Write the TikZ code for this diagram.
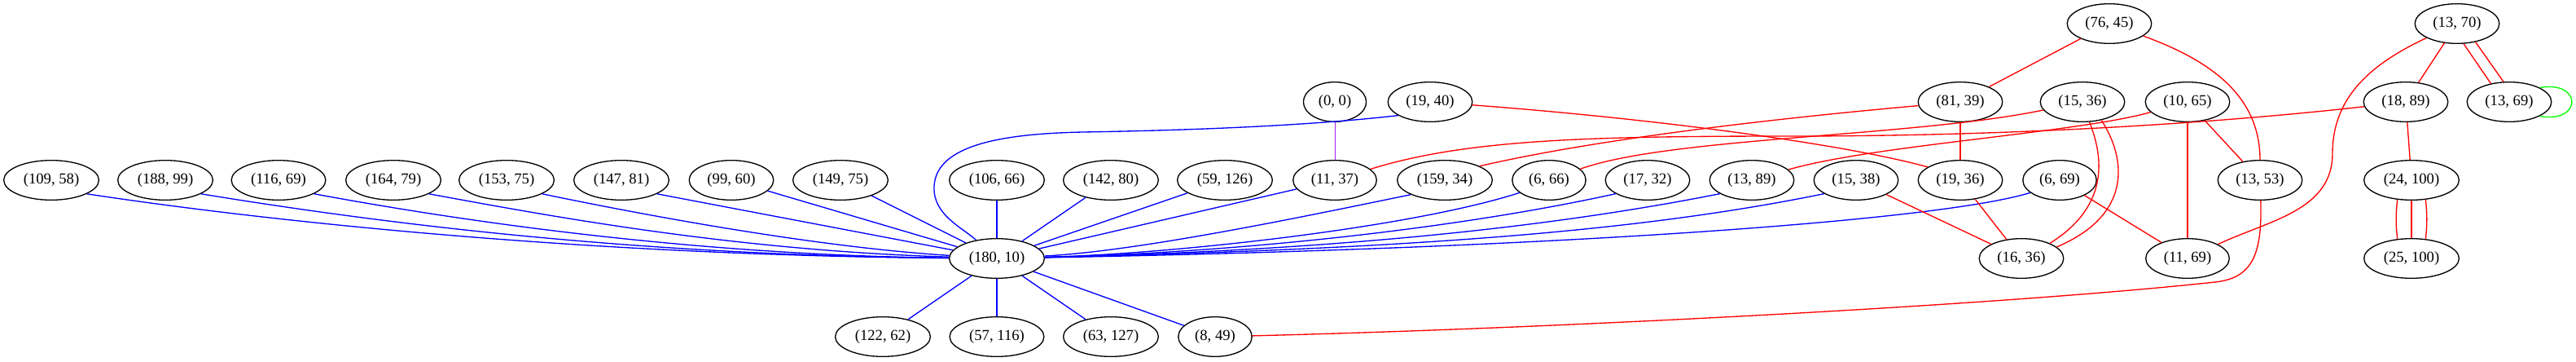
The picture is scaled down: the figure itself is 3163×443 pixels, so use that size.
\documentclass[tikz,border=0pt]{standalone}
\usepackage{fontspec}
\setmainfont{Liberation Serif}
\usetikzlibrary{shapes.geometric}
\definecolor{gvpurple}{RGB}{160,32,240}
\begin{document}
\begin{tikzpicture}[x=0.75pt, y=0.75pt,
	vtx/.style={ellipse, draw, line width=1pt, inner xsep=5.3pt, inner ysep=2pt, minimum height=36.5pt, font=\fontsize{14pt}{16pt}\selectfont},
	bedge/.style={blue, line width=1pt},
	redge/.style={red, line width=1pt},
	gedge/.style={green, line width=1pt},
	pedge/.style={gvpurple, line width=0.6pt}]

	\useasboundingbox (0, 0) rectangle (3163, 443);

	% first and second row
	\node (p76x45) [vtx] at (2590, 414) {(76, 45)};
	\node (p13x70) [vtx] at (3017, 414) {(13, 70)};
	\node (p0x0) [vtx] at (1639, 318) {(0, 0)};
	\node (p19x40) [vtx] at (1756, 318) {(19, 40)};
	\node (p81x39) [vtx] at (2407, 318) {(81, 39)};
	\node (p15x36) [vtx] at (2557, 318) {(15, 36)};
	\node (p10x65) [vtx] at (2686, 318) {(10, 65)};
	\node (p18x89) [vtx] at (2954, 318) {(18, 89)};
	\node (p13x69) [vtx] at (3081, 318) {(13, 69)};

	% third row
	\node (p109x58) [vtx] at (63, 222) {(109, 58)};
	\node (p188x99) [vtx] at (203, 222) {(188, 99)};
	\node (p116x69) [vtx] at (342, 222) {(116, 69)};
	\node (p164x79) [vtx] at (483, 222) {(164, 79)};
	\node (p153x75) [vtx] at (622, 222) {(153, 75)};
	\node (p147x81) [vtx] at (763, 222) {(147, 81)};
	\node (p99x60) [vtx] at (898, 222) {(99, 60)};
	\node (p149x75) [vtx] at (1032, 222) {(149, 75)};
	\node (p106x66) [vtx] at (1224, 222) {(106, 66)};
	\node (p142x80) [vtx] at (1364, 222) {(142, 80)};
	\node (p59x126) [vtx] at (1504, 222) {(59, 126)};
	\node (p11x37) [vtx] at (1639, 222) {(11, 37)};
	\node (p159x34) [vtx] at (1774, 222) {(159, 34)};
	\node (p6x66) [vtx] at (1902, 222) {(6, 66)};
	\node (p17x32) [vtx] at (2023, 222) {(17, 32)};
	\node (p13x89) [vtx] at (2151, 222) {(13, 89)};
	\node (p15x38) [vtx] at (2279, 222) {(15, 38)};
	\node (p19x36) [vtx] at (2407, 222) {(19, 36)};
	\node (p6x69) [vtx] at (2529, 222) {(6, 69)};
	\node (p13x53) [vtx] at (2775, 222) {(13, 53)};
	\node (p24x100) [vtx] at (2961, 222) {(24, 100)};

	% fourth and fifth row
	\node (p180x10) [vtx] at (1224, 126) {(180, 10)};
	\node (p16x36) [vtx] at (2482, 126) {(16, 36)};
	\node (p11x69) [vtx] at (2686, 126) {(11, 69)};
	\node (p25x100) [vtx] at (2961, 126) {(25, 100)};
	\node (p122x62) [vtx] at (1084, 30) {(122, 62)};
	\node (p57x116) [vtx] at (1224, 30) {(57, 116)};
	\node (p63x127) [vtx] at (1364, 30) {(63, 127)};
	\node (p8x49) [vtx] at (1492, 30) {(8, 49)};

	% blue edges into (180, 10)
	\draw[bedge] (p109x58.-21) .. controls (305, 175) and (700, 130) .. (p180x10);
	\draw[bedge] (p188x99.-21) .. controls (475, 168) and (780, 130) .. (p180x10);
	\draw[bedge] (p116x69.-21) .. controls (565, 172) and (850, 130) .. (p180x10);
	\draw[bedge] (p164x79.-21) .. controls (675, 178) and (900, 136) .. (p180x10);
	\draw[bedge] (p153x75.-21) .. controls (787, 180) and (1000, 140) .. (p180x10);
	\draw[bedge] (p159x34.203) .. controls (1609, 179) and (1400, 135) .. (p180x10);
	\draw[bedge] (p6x66.203) .. controls (1737, 165) and (1450, 132) .. (p180x10);
	\draw[bedge] (p17x32.203) .. controls (1815, 168) and (1550, 134) .. (p180x10);
	\draw[bedge] (p13x89.203) .. controls (1913, 166) and (1650, 136) .. (p180x10);
	\draw[bedge] (p15x38.203) .. controls (2022, 161) and (1750, 138) .. (p180x10);
	\draw[bedge] (p6x69.203) .. controls (2380, 172) and (1900, 138) .. (p180x10);
	\draw[bedge] (p19x40.203) .. controls (1600, 288) and (1450, 283) .. (1330, 281)
		.. controls (1230, 279) and (1150, 265) .. (1147, 215)
		.. controls (1145, 180) and (1180, 165) .. (p180x10);

	\path[bedge]
	(p147x81.-21) edge (p180x10)
	(p99x60) edge (p180x10)
	(p149x75) edge (p180x10)
	(p106x66) edge (p180x10)
	(p142x80) edge (p180x10)
	(p59x126) edge (p180x10)
	(p11x37) edge (p180x10)
	(p180x10) edge (p122x62)
	(p180x10) edge (p57x116)
	(p180x10) edge (p63x127)
	(p180x10) edge (p8x49);

	% red edges
	\path[redge]
	(p76x45) edge (p81x39)
	(p81x39) edge (p19x36)
	(p15x38) edge (p16x36)
	(p19x36) edge (p16x36)
	(p6x69) edge (p11x69)
	(p10x65) edge (p11x69)
	(p10x65) edge (p13x53)
	(p13x70) edge (p18x89)
	(p18x89) edge (p24x100)
	(p24x100) edge (p25x100)
	(p13x70.-72) edge (p13x69.135)
	(p13x70.-45) edge (p13x69.106)
	(p24x100.-126) edge[bend right=6] (p25x100.126)
	(p24x100.-54) edge[bend left=6] (p25x100.54)
	(p76x45) edge[out=-20, in=90] (p13x53);

	\draw[redge] (p81x39) .. controls (2150, 295) and (1950, 270) .. (p159x34.22);
	\draw[redge] (p19x40) .. controls (2000, 300) and (2250, 270) .. (p19x36.158);
	\draw[redge] (p11x37) .. controls (1800, 272) and (1950, 276) .. (2200, 276)
		.. controls (2500, 276) and (2750, 295) .. (p18x89);
	\draw[redge] (p6x66) .. controls (2050, 275) and (2350, 275) .. (p15x36);
	\draw[redge] (p13x89) .. controls (2300, 265) and (2550, 280) .. (p10x65);
	\draw[redge] (p15x36.-71) .. controls (2583, 250) and (2590, 190) .. (p16x36.28);
	\draw[redge] (p15x36.-44) .. controls (2610, 250) and (2620, 180) .. (p16x36.18);
	\draw[redge] (p13x53) .. controls (2778, 130) and (2765, 102) .. (2720, 97)
		.. controls (2450, 68) and (1900, 40) .. (p8x49);
	\draw[redge] (p13x70) to[out=205, in=90] (2864, 255) to[out=-90, in=25] (p11x69);

	% loop and purple edge
	\draw[gedge] (p13x69.25) to[out=10, in=-10, min distance=40pt] (p13x69.-25);
	\draw[pedge] (p0x0) -- (p11x37);

\end{tikzpicture}
\end{document}
